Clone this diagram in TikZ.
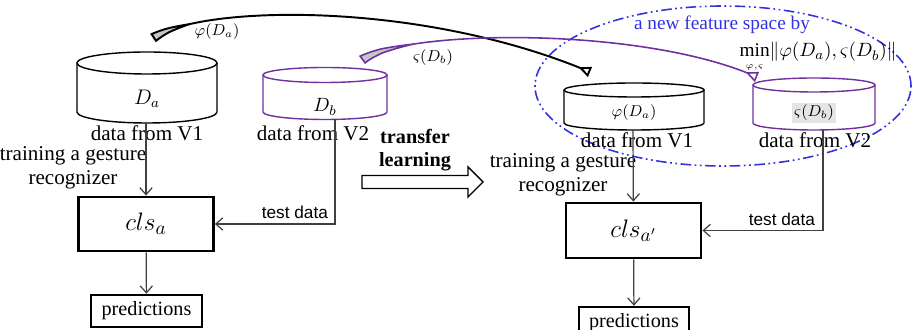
\documentclass[tikz,border=0pt]{standalone}
\usepackage{amsmath}
\usepackage{fontspec}
\setmainfont{Liberation Serif}
\newfontfamily\arialfont{Liberation Sans}
\usetikzlibrary{arrows.meta,bending,positioning,calc}
\definecolor{vtwocol}{RGB}{112,48,160}
\definecolor{spacecol}{RGB}{50,50,225}

\begin{document}
\begin{tikzpicture}[
  x=0.02cm, y=0.02cm,
  cyl/.style={line width=0.8pt},
  box/.style={rectangle, draw, line width=1.6pt, inner sep=0pt},
  arr/.style={-{Straight Barb[length=4pt,width=7pt]}, line width=0.7pt, black!75},
  lbl/.style={font=\fontsize{12}{13.6}\selectfont, align=center, inner sep=0pt},
  tag/.style={font=\fontsize{9}{10}\selectfont, inner sep=1pt},
  map/.style={line width=#1, line cap=round,
    {Triangle[reversed, length=24pt, width=5.5pt, fill=gray!45, bend]}-{Triangle[reversed, open, length=7pt, width=6pt]}},
]
  \useasboundingbox (0,0) rectangle (912,330);

  % New feature space
  \draw[spacecol, line width=0.9pt, dash pattern=on 6pt off 2pt on 1pt off 2pt on 1pt off 2pt]
    (723,244) ellipse [x radius=188, y radius=80];
  \node[font=\fontsize{11}{12}\selectfont, text=spacecol] (spacetxt) at (722,305) {a new feature space by};
  \node[font=\fontsize{11}{12}\selectfont, anchor=base] (mintxt) at (818,273)
    {$\min\limits_{\scriptscriptstyle\varphi,\varsigma}\lVert\varphi(D_a),\varsigma(D_b)\rVert$};

  % Column 1: data from V1
  \draw[cyl] (77,267) -- (77,218) arc [start angle=180, end angle=360, x radius=70, y radius=11] -- (217,267);
  \draw[cyl] (147,267) ellipse [x radius=70, y radius=11];
  \node[font=\fontsize{12}{13}\selectfont] (da) at (147,231) {$D_a$};
  \coordinate (dabot) at (146,207);
  \node[lbl] (v1a) at (147,197) {data from V1};
  \node[lbl] (traina) at (73,162) {training a gesture\\recognizer};

  \node[box, minimum width=2.7cm, minimum height=1.08cm] (clsa) at (146,106)
    {\fontsize{15}{16}\selectfont$cls_a$};
  \node[box, minimum width=2.22cm, minimum height=0.64cm, line width=1.4pt] (preda) at (146.5,19)
    {\fontsize{11.5}{12}\selectfont predictions};

  % Column 2: data from V2
  \draw[cyl, vtwocol] (263,255) -- (263,218) arc [start angle=180, end angle=360, x radius=62, y radius=7.5] -- (387,255);
  \draw[cyl, vtwocol] (325,255) ellipse [x radius=62, y radius=7.5];
  \node[font=\fontsize{11}{12}\selectfont] (db) at (325,223) {$D_b$};
  \coordinate (dbbot) at (335,211);
  \node[lbl] (v2a) at (313,197) {data from V2};

  % Arrows
  \draw[arr] (dabot) -- (clsa);
  \draw[arr] (clsa) -- (preda);
  \draw[arr] (dbbot) |- (clsa.east);
  \node[font=\arialfont\fontsize{9.8}{11}\selectfont, anchor=south east, inner sep=1pt] (testa) at (330,109) {test data};

  % Transfer
  \draw[line width=0.8pt] (362,154.5) -- (468,154.5) -- (468,163) -- (483,148) -- (468,133)
    -- (468,141.5) -- (362,141.5) -- cycle;
  \node[font=\bfseries\fontsize{11.5}{13.5}\selectfont, align=center] (tl) at (415,180) {transfer\\learning};

  % Column 3: mapped V1
  \draw[cyl] (564,240) -- (564,207) arc [start angle=180, end angle=360, x radius=70, y radius=7] -- (704,240);
  \draw[cyl] (634,240) ellipse [x radius=70, y radius=7];
  \node[tag] (pa) at (634,217) {$\varphi(D_a)$};
  \coordinate (pabot) at (633,200);
  \node[lbl] (v1b) at (637,190) {data from V1};
  \node[lbl] (trainb) at (563,155) {training a gesture\\recognizer};

  \node[box, minimum width=2.7cm, minimum height=1.1cm] (clsb) at (633.5,99.5)
    {\fontsize{15}{16}\selectfont$cls_{a'}$};
  \node[box, minimum width=2.2cm, minimum height=0.64cm, line width=1.4pt] (predb) at (634,7)
    {\fontsize{11.5}{12}\selectfont\raisebox{3pt}{predictions}};

  % Column 4: mapped V2
  \draw[cyl, vtwocol] (753,245) -- (753,207) arc [start angle=180, end angle=360, x radius=61, y radius=7] -- (875,245);
  \draw[cyl, vtwocol] (814,245) ellipse [x radius=61, y radius=7];
  \node[tag, fill=gray!20] (sb) at (814,217) {$\varsigma(D_b)$};
  \coordinate (sbbot) at (823,200);
  \node[lbl] (v2b) at (815,190) {data from V2};

  \draw[arr] (pabot) -- (clsb);
  \draw[arr] (clsb) -- (predb);
  \draw[arr] (sbbot) |- (clsb.east);
  \node[font=\arialfont\fontsize{9.8}{11}\selectfont, anchor=south east, inner sep=1pt] (testb) at (817,102) {test data};

  % Mappings into the new space
  \coordinate (mapa) at (153,292);
  \coordinate (mapaend) at (590,258);
  \coordinate (mapb) at (362,270);
  \coordinate (mapbend) at (757,253);
  \draw[map=1.1pt] (mapa) .. controls (200,325) and (420,330) .. (mapaend);
  \draw[map=0.9pt, vtwocol] (mapb) .. controls (400,300) and (640,305) .. (mapbend);
  \node[tag] (phia) at (217,298) {$\varphi(D_a)$};
  \node[tag] (sigb) at (433,272) {$\varsigma(D_b)$};
\end{tikzpicture}
\end{document}
